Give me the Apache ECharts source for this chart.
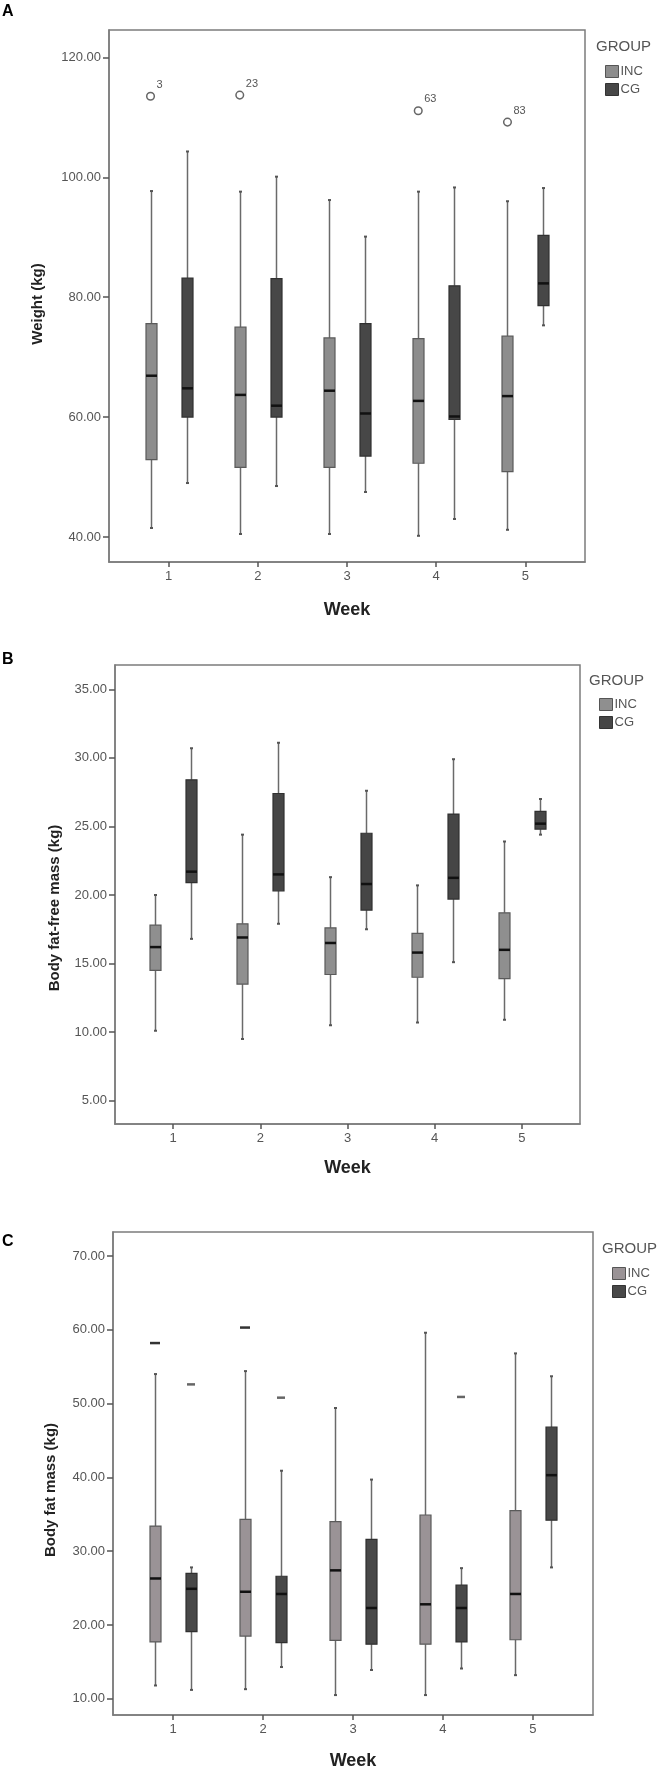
<!DOCTYPE html>
<html>
<head>
<meta charset="utf-8">
<script src="https://cdn.jsdelivr.net/npm/echarts@6/dist/echarts.min.js"></script>
<style>
html,body{margin:0;padding:0;background:#fff;}
#chart{width:668px;height:1773px;}
</style>
</head>
<body>
<div id="chart"></div>
<script>
// ---- data ----
const weeks = [1, 2, 3, 4, 5];
const groups = ['INC', 'CG'];
// each row: [lower whisker, Q1, median, Q3, upper whisker]
const weightINC = [[41.5,52.9,66.9,75.6,97.7],[40.5,51.6,63.7,75.0,97.6],[40.5,51.6,64.4,73.2,96.2],[40.2,52.3,62.7,73.1,97.6],[41.2,50.9,63.5,73.5,96.0]];
const weightCG  = [[49.0,60.0,64.8,83.2,104.3],[48.5,60.0,61.9,83.1,100.1],[47.5,53.5,60.6,75.6,90.1],[43.0,59.6,60.1,81.9,98.3],[75.3,78.6,82.3,90.3,98.2]];
const weightOutliers = [[1,113.5],[2,113.7],[4,111.1],[5,109.2]];
const weightOutlierIds = ['3','23','63','83'];

const ffmINC = [[10.1,14.5,16.2,17.8,20.0],[9.5,13.5,16.9,17.9,24.4],[10.5,14.2,16.5,17.6,21.3],[10.7,14.0,15.8,17.2,20.7],[10.9,13.9,16.0,18.7,23.9]];
const ffmCG  = [[16.8,20.9,21.7,28.4,30.7],[17.9,20.3,21.5,27.4,31.1],[17.5,18.9,20.8,24.5,27.6],[15.1,19.7,21.25,25.9,29.9],[24.4,24.8,25.2,26.1,27.0]];

const fatINC = [[11.8,17.7,26.3,33.4,54.0],[11.3,18.5,24.5,34.3,54.4],[10.5,17.9,27.4,34.0,49.4],[10.5,17.4,22.8,34.9,59.6],[13.2,18.0,24.2,35.5,56.8]];
const fatCG  = [[11.2,19.1,24.9,27.0,27.8],[14.3,17.6,24.2,26.6,40.9],[13.9,17.4,22.3,31.6,39.7],[14.1,17.7,22.3,25.4,27.7],[27.8,34.2,40.3,46.8,53.7]];
const fatOutliersINC = [[1,58.2],[2,60.3]];
const fatOutliersCG  = [[1,52.6],[2,50.8],[4,50.9]];

const weightTicks = [40, 60, 80, 100, 120];
const ffmTicks = [5, 10, 15, 20, 25, 30, 35];
const fatTicks = [10, 20, 30, 40, 50, 60, 70];
const panelLetters = ['A', 'B', 'C'];
const yNames = ['Weight (kg)', 'Body fat-free mass (kg)', 'Body fat mass (kg)'];
const xName = 'Week';
const legendTitle = 'GROUP';

// ---- styling / layout ----
const FONT = 'Liberation Sans, Arial, sans-serif';
const frameColor = '#7c7c7c';
const incFill = ['#8d8d8d', '#8f8f8f', '#9a9396'];
const cgFill = ['#474747', '#464646', '#484848'];
const OFFSET = 18;   // px shift of each group from the week tick
const HALF = 5.5;    // half box width px

function rows(arr) { return weeks.map((w, i) => [w].concat(arr[i])); }

function boxRender(offset, fill, stroke) {
  return function (params, api) {
    const x = api.value(0);
    const lo = api.coord([x, api.value(1)]);
    const q1 = api.coord([x, api.value(2)]);
    const md = api.coord([x, api.value(3)]);
    const q3 = api.coord([x, api.value(4)]);
    const hi = api.coord([x, api.value(5)]);
    const cx = Math.round(lo[0] + offset) + 0.5;
    const wStyle = { stroke: '#6a6a6a', lineWidth: 1.5 };
    return {
      type: 'group',
      children: [
        { type: 'line', shape: { x1: cx, y1: hi[1], x2: cx, y2: q3[1] }, style: wStyle },
        { type: 'line', shape: { x1: cx, y1: q1[1], x2: cx, y2: lo[1] }, style: wStyle },
        { type: 'line', shape: { x1: cx - 1.5, y1: hi[1], x2: cx + 1.5, y2: hi[1] }, style: { stroke: '#555', lineWidth: 2 } },
        { type: 'line', shape: { x1: cx - 1.5, y1: lo[1], x2: cx + 1.5, y2: lo[1] }, style: { stroke: '#555', lineWidth: 2 } },
        { type: 'rect', shape: { x: cx - HALF, y: q3[1], width: HALF * 2, height: q1[1] - q3[1] }, style: { fill: fill, stroke: stroke, lineWidth: 1.2 } },
        { type: 'line', shape: { x1: cx - HALF, y1: md[1], x2: cx + HALF, y2: md[1] }, style: { stroke: '#111', lineWidth: 2.5 } }
      ]
    };
  };
}

function circleRender(offset, ids) {
  return function (params, api) {
    const p = api.coord([api.value(0), api.value(1)]);
    const cx = p[0] + offset;
    return {
      type: 'group',
      children: [
        { type: 'circle', shape: { cx: cx, cy: p[1], r: 3.8 }, style: { fill: '#fff', stroke: '#666', lineWidth: 1.5 } },
        { type: 'text', style: { x: cx + 6, y: p[1] - 6, text: ids[params.dataIndex], fill: '#555', fontSize: 11, fontFamily: FONT, textAlign: 'left', textVerticalAlign: 'bottom' } }
      ]
    };
  };
}

function dashRender(offset, halfw, color) {
  return function (params, api) {
    const p = api.coord([api.value(0), api.value(1)]);
    const cx = p[0] + offset;
    return { type: 'line', shape: { x1: cx - halfw, y1: p[1], x2: cx + halfw, y2: p[1] }, style: { stroke: color, lineWidth: 2.5 } };
  };
}

const grids = [
  { left: 109, top: 30, width: 476, height: 532 },
  { left: 115, top: 665, width: 465, height: 459 },
  { left: 113, top: 1232, width: 480, height: 483 }
];
const yRanges = [[35.83, 124.56], [3.30, 36.77], [7.8, 73.25]];
const yTickSets = [weightTicks, ffmTicks, fatTicks];
const nameGapsX = [48, 44, 46];

const option = {
  animation: false,
  grid: grids.map(g => Object.assign({ show: true, borderColor: frameColor, borderWidth: 1.5, backgroundColor: '#fff' }, g)),
  xAxis: grids.map((g, i) => ({
    type: 'value', gridIndex: i, min: 0.333, max: 5.667,
    name: xName, nameLocation: 'middle', nameGap: nameGapsX[i],
    nameTextStyle: { fontSize: 18, fontWeight: 'bold', color: '#222', fontFamily: FONT, verticalAlign: 'middle' },
    axisLine: { show: true, lineStyle: { color: frameColor, width: 1.5 } },
    axisTick: { show: true, customValues: weeks, length: 5, inside: false, lineStyle: { color: '#555', width: 1.5 } },
    axisLabel: { customValues: weeks, formatter: v => String(v), color: '#555', fontSize: 13, fontFamily: FONT, margin: 8 },
    splitLine: { show: false }
  })),
  yAxis: grids.map((g, i) => ({
    type: 'value', gridIndex: i, min: yRanges[i][0], max: yRanges[i][1],
    axisLine: { show: true, lineStyle: { color: frameColor, width: 1.5 } },
    axisTick: { show: true, customValues: yTickSets[i], length: 6, lineStyle: { color: '#555', width: 1.5 } },
    axisLabel: { customValues: yTickSets[i], formatter: v => v.toFixed(2), color: '#555', fontSize: 13, fontFamily: FONT, margin: 8 },
    splitLine: { show: false }
  })),
  legend: [
    { left: 605, top: 65 }, { left: 599, top: 698 }, { left: 612, top: 1267 }
  ].map((p, i) => ({
    left: p.left, top: p.top, orient: 'vertical', padding: 0, itemGap: 5, itemWidth: 13, itemHeight: 12,
    icon: 'rect', selectedMode: false,
    textStyle: { fontSize: 13, color: '#555', fontFamily: FONT, padding: [0, 0, 0, -3] },
    data: [
      { name: groups[0], itemStyle: { color: incFill[i], borderColor: '#555', borderWidth: 1 } },
      { name: groups[1], itemStyle: { color: cgFill[i], borderColor: '#333', borderWidth: 1 } }
    ]
  })),
  graphic: [
    ...panelLetters.map((t, i) => ({ type: 'text', x: 2, y: [12, 660, 1242][i], style: { text: t, fontSize: 16, fontWeight: 'bold', fill: '#000', fontFamily: FONT, textVerticalAlign: 'middle' } })),
    ...[[596, 47], [589, 681], [602, 1249]].map(p => ({ type: 'text', x: p[0], y: p[1], style: { text: legendTitle, fontSize: 15, fill: '#555', fontFamily: FONT, textVerticalAlign: 'middle' } })),
    ...[[38, 304], [55, 908], [51, 1490]].map((p, i) => ({ type: 'text', x: p[0], y: p[1], rotation: Math.PI / 2, style: { text: yNames[i], fontSize: 15, fontWeight: 'bold', fill: '#222', fontFamily: FONT, textAlign: 'center', textVerticalAlign: 'middle' } }))
  ],
  series: []
};

const panelData = [[weightINC, weightCG], [ffmINC, ffmCG], [fatINC, fatCG]];
panelData.forEach((pair, i) => {
  option.series.push({
    type: 'custom', name: groups[0], xAxisIndex: i, yAxisIndex: i,
    itemStyle: { color: incFill[i] },
    renderItem: boxRender(-OFFSET, incFill[i], '#5a5a5a'),
    encode: { x: 0, y: [1, 2, 3, 4, 5] },
    data: rows(pair[0])
  });
  option.series.push({
    type: 'custom', name: groups[1], xAxisIndex: i, yAxisIndex: i,
    itemStyle: { color: cgFill[i] },
    renderItem: boxRender(OFFSET, cgFill[i], '#303030'),
    encode: { x: 0, y: [1, 2, 3, 4, 5] },
    data: rows(pair[1])
  });
});
option.series.push({
  type: 'custom', name: 'INC outliers', xAxisIndex: 0, yAxisIndex: 0,
  renderItem: circleRender(-OFFSET, weightOutlierIds), encode: { x: 0, y: 1 }, data: weightOutliers
});
option.series.push({
  type: 'custom', name: 'INC extremes', xAxisIndex: 2, yAxisIndex: 2,
  renderItem: dashRender(-OFFSET, 5, '#333'), encode: { x: 0, y: 1 }, data: fatOutliersINC
});
option.series.push({
  type: 'custom', name: 'CG extremes', xAxisIndex: 2, yAxisIndex: 2,
  renderItem: dashRender(OFFSET, 4, '#666'), encode: { x: 0, y: 1 }, data: fatOutliersCG
});

const chart = echarts.init(document.getElementById('chart'), null, { renderer: 'canvas' });
chart.setOption(option);
</script>
</body>
</html>
